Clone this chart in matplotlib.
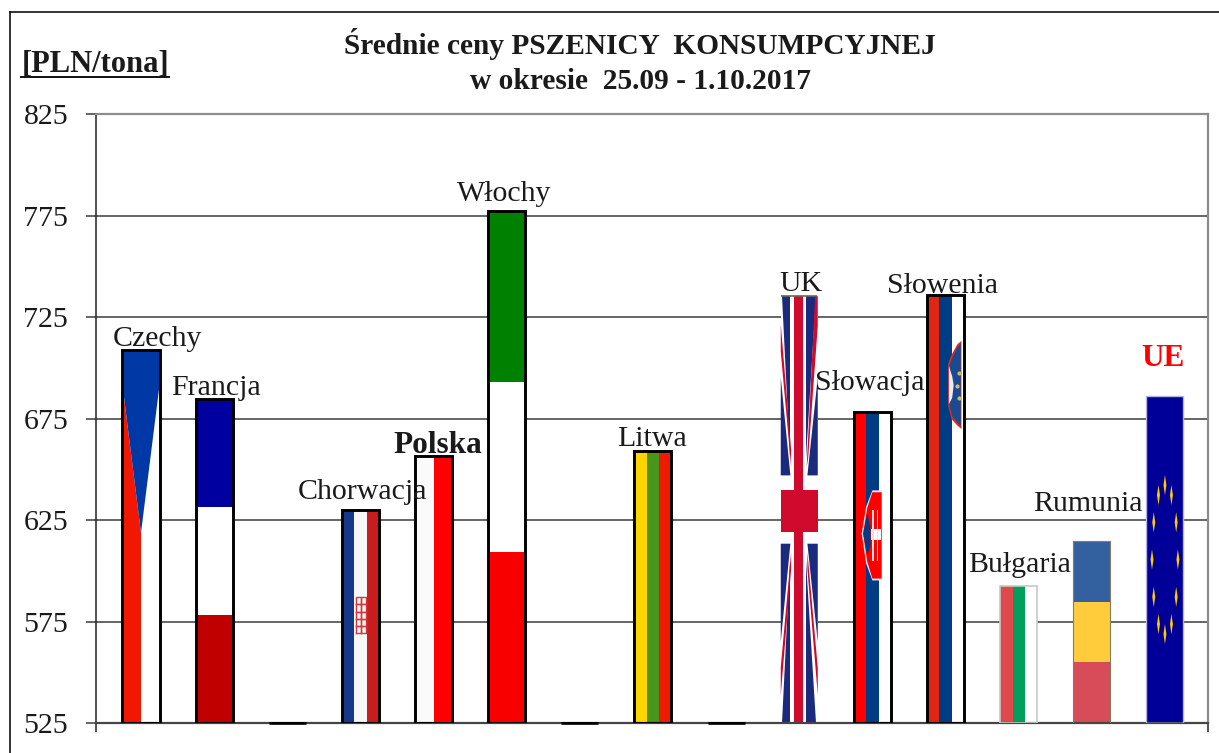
# -*- coding: utf-8 -*-
import numpy as np
import matplotlib
matplotlib.use("Agg")
import matplotlib.pyplot as plt
from matplotlib.lines import Line2D

plt.rcParams["font.family"] = ["Liberation Serif", "DejaVu Serif"]

KRAJE = ["Czechy", "Francja", "", "Chorwacja", "Polska", "Włochy", "", "Litwa", "",
         "UK", "Słowacja", "Słowenia", "Bułgaria", "Rumunia", "UE"]
CENY = [708.7, 684.6, 525, 630, 656.5, 777, 525, 659, 525, 735.3, 678, 735.8, 592.5, 614.7, 686]
YTICKS = [525, 575, 625, 675, 725, 775, 825]

# label offsets from bar centre/top, in pixels
LAB_DX = [17, 2, 0, 2, 4, -2, 0, -1, 0, 2, -3, -3, 1, -4, -2]
LAB_DY = [11, 11, 0, 18, 11, 17, 0, 12, 0, 12, 29, 9, 21, 37, 38]

W, H = 1219, 753
X0, X1, Y0, Y1 = 96, 1208, 114, 723
BW = 0.506
TXT = "#1a1a1a"

fig = plt.figure(figsize=(W / 100, H / 100), dpi=100, facecolor="white")
ax = fig.add_axes([X0 / W, (H - Y1) / H, (X1 - X0) / W, (Y1 - Y0) / H])
ax.set_ylim(525, 825)
# bar 0 centre at px 141, spacing 73.14 px
ax.set_xlim((X0 - 141) / 73.14, (X1 - 141) / 73.14)
y = np.array(CENY, dtype=float)


def uv(i, u, v):
    """bar-relative coords -> data coords"""
    u, v = np.asarray(u, float), np.asarray(v, float)
    return i + (u - 0.5) * BW, 525 + v * (y[i] - 525)


def poly(i, pts, col, z=2, **kw):
    xs, ys = uv(i, [p[0] for p in pts], [p[1] for p in pts])
    ax.fill(xs, ys, color=col, lw=0, zorder=z, **kw)


def pasy_pion(i, cols):
    n = len(cols)
    for k, c in enumerate(cols):
        poly(i, [(k / n, 0), ((k + 1) / n, 0), ((k + 1) / n, 1), (k / n, 1)], c)


def pasy_poz(i, cols):
    # colours listed top to bottom
    n = len(cols)
    for k, c in enumerate(cols):
        a, b = 1 - (k + 1) / n, 1 - k / n
        poly(i, [(0, a), (1, a), (1, b), (0, b)], c)


ax.yaxis.grid(True, color="#3c3c3c", lw=1.1, zorder=1)
ax.set_axisbelow(True)

# --- flags ---
# Czechy
pasy_pion(0, ["white"])
poly(0, [(0, 0), (0.5, 0), (0.5, 0.51), (0, 0.905)], "#f21800", 2.1)
poly(0, [(0, 1), (1, 1), (1, 0.905), (0.5, 0.51), (0, 0.905)], "#0039a6", 2.2)
pasy_poz(1, ["#0000a0", "white", "#c00000"])  # Francja
# Chorwacja
pasy_pion(3, ["#15388a", "#f7f7f7", "#c91d1d"])
for r in range(5):
    for c in range(2):
        u0, v0 = 0.38 + c * 0.135, 0.42 + r * 0.034
        xs, ys = uv(3, [u0, u0 + 0.135, u0 + 0.135, u0, u0], [v0, v0, v0 + 0.034, v0 + 0.034, v0])
        ax.plot(xs, ys, color="#d8383c", lw=1.0, zorder=2.2)
pasy_pion(4, ["#fafafa", "#ff0000"])  # Polska
pasy_poz(5, ["#008000", "white", "#f80000"])  # Włochy
pasy_pion(7, ["#ffd500", "#46971b", "#ef1a00"])  # Litwa

# UK
BLU, RED = "#1a2a7c", "#cf0a2c"
pasy_pion(9, ["white"])
for mv in (False, True):
    f = (lambda v: 1 - v) if mv else (lambda v: v)
    poly(9, [(0.04, f(1)), (0.26, f(1)), (0.26, f(0.62))], BLU, 2.1)
    poly(9, [(0, f(0.58)), (0.26, f(0.58)), (0, f(0.81))], BLU, 2.1)
    poly(9, [(0.96, f(1)), (0.68, f(1)), (0.68, f(0.62))], BLU, 2.1)
    poly(9, [(1, f(0.58)), (0.72, f(0.58)), (1, f(0.81))], BLU, 2.1)
    poly(9, [(0, f(0.935)), (0, f(0.87)), (0.28, f(0.6)), (0.28, f(0.64))], RED, 2.2)
    if mv:
        poly(9, [(1, f(0.935)), (1, f(0.87)), (0.72, f(0.6)), (0.72, f(0.64))], RED, 2.2)
    else:
        poly(9, [(1, 1), (0.93, 1), (0.7, 0.6), (0.74, 0.62), (1, 0.93)], RED, 2.2)
poly(9, [(0.36, 0), (0.6, 0), (0.6, 1), (0.36, 1)], RED, 2.3)
poly(9, [(0, 0.447), (1, 0.447), (1, 0.546), (0, 0.546)], RED, 2.3)
for v in (0, 1):
    xs, ys = uv(9, [0.02, 0.98], [v, v])
    ax.plot(xs, ys, color="#6a6a50", lw=1.2, zorder=2.4, solid_capstyle="butt")

# Słowacja
pasy_pion(10, ["#ff0000", "#003c84", "white"])
poly(10, [(0.77, 0.749), (0.5, 0.749), (0.33, 0.696), (0.21, 0.61), (0.33, 0.514), (0.5, 0.459),
          (0.77, 0.459)], "#dfe8f2", 2.1)
poly(10, [(0.75, 0.743), (0.5, 0.743), (0.36, 0.692), (0.25, 0.61), (0.36, 0.52), (0.5, 0.465),
          (0.75, 0.465)], "#ff0000", 2.2)
poly(10, [(0.25, 0.61), (0.36, 0.675), (0.45, 0.63), (0.45, 0.57), (0.36, 0.54)], "#003c84", 2.3)
poly(10, [(0.455, 0.59), (0.73, 0.59), (0.73, 0.626), (0.455, 0.626)], "white", 2.4)
poly(10, [(0.5, 0.52), (0.54, 0.52), (0.54, 0.685), (0.5, 0.685)], "#ffd8d8", 2.4)
poly(10, [(0.62, 0.52), (0.66, 0.52), (0.66, 0.685), (0.62, 0.685)], "#ffd8d8", 2.4)

# Słowenia
pasy_pion(11, ["#e22510", "#003c84", "white"])
poly(11, [(0.93, 0.893), (0.82, 0.885), (0.66, 0.86), (0.57, 0.84), (0.57, 0.74), (0.66, 0.71),
          (0.82, 0.695), (0.93, 0.687)], "#dd2a20", 2.1)
poly(11, [(0.91, 0.886), (0.82, 0.878), (0.68, 0.853), (0.6, 0.835), (0.6, 0.745), (0.68, 0.717),
          (0.82, 0.702), (0.91, 0.694)], "#1a4a90", 2.2)
poly(11, [(0.59, 0.835), (0.68, 0.81), (0.72, 0.79), (0.68, 0.76), (0.59, 0.745)], "#e8eef6", 2.3)
xs, ys = uv(11, [0.877, 0.81, 0.877], [0.817, 0.787, 0.76])
ax.plot(xs, ys, ls="none", marker="o", ms=2.0, color="#c8c050", zorder=2.4)

pasy_pion(12, ["#e0484c", "#00a05a", "white"])  # Bułgaria
pasy_poz(13, ["#33619f", "#ffcd3c", "#d84b58"])  # Rumunia
pasy_pion(14, ["#000098"])  # UE

# EU stars, squeezed like the stretched flag
for a in range(0, 360, 30):
    cu = 0.5 + 0.35 * np.cos(np.radians(a))
    cv = 0.5 + 0.228 * np.sin(np.radians(a))
    poly(14, [(cu, cv - 0.031), (cu + 0.04, cv), (cu, cv + 0.031), (cu - 0.04, cv)], "#ffcc00", 2.3)

# --- outlines ---
EDGE = ["black"] * 12 + ["#c8c8c8", "#8a7a60", "#b4b4e0"]
EDGE[9] = "none"
LW = [2.1] * 12 + [1.2, 0.8, 1.0]
for i in range(len(y)):
    ax.bar(i, y[i] - 525, BW, bottom=525, fill=False, edgecolor=EDGE[i], lw=LW[i], zorder=3)
# zero-height categories still leave a black stub on the axis
for i in (2, 6, 8):
    ax.plot([i - BW / 2, i + BW / 2], [525, 525], color="black", lw=1.9, zorder=3,
            solid_capstyle="butt", clip_on=False)

# --- labels ---
for i, nazwa in enumerate(KRAJE):
    if not nazwa:
        continue
    kw = dict(color=TXT, fontsize=21.5)
    if nazwa == "Polska":
        kw.update(fontweight="bold", fontsize=22.5)
    if nazwa == "UE":
        kw.update(fontweight="bold", color="#ff0000", fontsize=22.5)
    ax.annotate(nazwa, (i, y[i]), xytext=(LAB_DX[i], LAB_DY[i]), textcoords="offset pixels",
                ha="center", va="center", zorder=5, annotation_clip=False, **kw)

# --- axes ---
ax.set_yticks(YTICKS)
ax.set_yticklabels([str(t) for t in YTICKS], fontsize=21.5, color=TXT)
ax.tick_params(axis="y", direction="out", length=7, width=1.1, color="#3c3c3c", pad=13)
ax.set_xticks(ax.get_xlim())
ax.set_xticklabels(["", ""])
ax.tick_params(axis="x", direction="out", length=6.5, width=1.1, color="#222222")
for s in ("top", "right"):
    ax.spines[s].set_color("#8c8c8c")
    ax.spines[s].set_linewidth(1.6)
ax.spines["left"].set_color("#222222")
ax.spines["left"].set_linewidth(1.1)
ax.spines["bottom"].set_color("#454545")
ax.spines["bottom"].set_linewidth(1.6)


def fx(p): return p / W
def fy(p): return 1 - p / H


# outer frame of the pasted chart
fig.add_artist(Line2D([fx(9.5), fx(W)], [fy(12), fy(12)], color="#111111", lw=1.2))
fig.add_artist(Line2D([fx(9.5), fx(9.5)], [fy(12), 0], color="#111111", lw=1.2))

# --- title ---
fig.text(fx(640), fy(54.5), "Średnie ceny PSZENICY  KONSUMPCYJNEJ", ha="center", va="baseline",
         fontsize=21.2, fontweight="bold", color=TXT)
fig.text(fx(640), fy(89), "w okresie  25.09 - 1.10.2017", ha="center", va="baseline",
         fontsize=21.2, fontweight="bold", color=TXT)
fig.text(fx(22), fy(71.5), "[PLN/tona]", ha="left", va="baseline", fontsize=22, fontweight="bold", color=TXT)
fig.add_artist(Line2D([fx(21), fx(169)], [fy(77), fy(77)], color="#111111", lw=1.4))

fig.savefig("out.png", dpi=100)
